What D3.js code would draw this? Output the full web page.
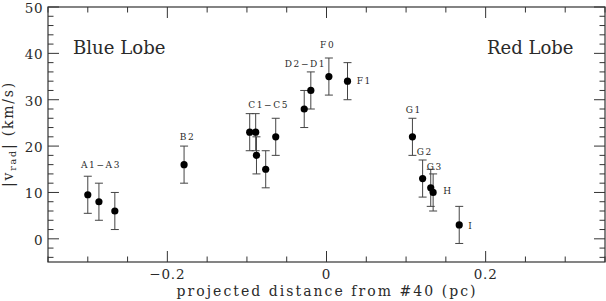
<!DOCTYPE html>
<html><head><meta charset="utf-8">
<script src="https://cdn.jsdelivr.net/npm/d3@7"></script>
<style>body{margin:0;background:#fff}svg{display:block}text{font-family:"DejaVu Serif",serif;fill:#2a2a2a}</style>
</head><body>
<script>
const xs   = [-0.300, -0.286, -0.266, -0.179, -0.0965, -0.089, -0.088, -0.0764, -0.0638, -0.028, -0.0197, 0.003, 0.0264, 0.108, 0.1208, 0.131, 0.134, 0.1668];
const vs   = [9.5, 8, 6, 16, 23, 23, 18, 15, 22, 28, 32, 35, 34, 22, 13, 11, 10, 3];
const errs = [4, 4, 4, 4, 4, 4, 4, 4, 4, 4, 4, 4, 4, 4, 4, 4, 4, 4];
const labelText = ["A1\u2212A3", "B2", "C1\u2212C5", "D2\u2212D1", "F0", "F1", "G1", "G2", "G3", "H", "I"];
const labelX = [-0.2834, -0.1747, -0.0727, -0.0264, 0.0015, 0.038, 0.1097, 0.1134, 0.1259, 0.1468, 0.1782];
const labelY = [15.2, 21.3, 28.15, 37.0, 41.1, 33.5, 27.07, 18.08, 14.85, 9.67, 2.05];
const labelAnchor = ["middle","middle","middle","middle","middle","start","middle","start","start","start","start"];
const xTicks = [-0.2, 0, 0.2];
const yTicks = [0, 10, 20, 30, 40, 50];

const W = 606, H = 301;
const svg = d3.select("body").append("svg").attr("width", W).attr("height", H);
const x = d3.scaleLinear().domain([-0.35, 0.35]).range([48, 605]);
const y = d3.scaleLinear().domain([-5, 50]).range([262, 7]);
const ink = "#333";

// frame
svg.append("rect").attr("x", x(-0.35)).attr("y", y(50)).attr("width", x(0.35) - x(-0.35)).attr("height", y(-5) - y(50))
  .attr("fill", "none").attr("stroke", ink).attr("stroke-width", 1.2);

const minorX = d3.range(-0.35, 0.3501, 0.05).map(v => +v.toFixed(2)).filter(v => !xTicks.some(t => Math.abs(t - v) < 1e-6));
const minorY = d3.range(-4, 50, 2).filter(v => !yTicks.includes(v));

const g = svg.append("g").attr("stroke", ink).attr("stroke-width", 1);
const Y0 = y(-5), Y1 = y(50), X0 = x(-0.35), X1 = x(0.35);
function xt(t, len) {
  g.append("line").attr("x1", x(t)).attr("x2", x(t)).attr("y1", Y0).attr("y2", Y0 - len);
  g.append("line").attr("x1", x(t)).attr("x2", x(t)).attr("y1", Y1).attr("y2", Y1 + len);
}
function yt(t, len) {
  g.append("line").attr("x1", X0).attr("x2", X0 + len).attr("y1", y(t)).attr("y2", y(t));
  g.append("line").attr("x1", X1).attr("x2", X1 - len).attr("y1", y(t)).attr("y2", y(t));
}
xTicks.forEach(t => xt(t, 11)); minorX.forEach(t => xt(t, 5.5));
yTicks.forEach(t => yt(t, 11)); minorY.forEach(t => yt(t, 5.5));

// tick labels
svg.selectAll(".xt").data(xTicks).enter().append("text")
  .attr("x", d => x(d)).attr("y", 279).attr("text-anchor", "middle").attr("font-size", 13.5).attr("letter-spacing", 0.8)
  .text(d => d === 0 ? "0" : (d < 0 ? "\u2212" : "") + Math.abs(d).toFixed(1));
svg.selectAll(".yt").data(yTicks).enter().append("text")
  .attr("x", 43).attr("y", d => y(d) + 5.8).attr("text-anchor", "end").attr("font-size", 13.5).attr("letter-spacing", 0.5)
  .text(d => d);

// axis titles
svg.append("text").attr("x", 326).attr("y", 295.5).attr("text-anchor", "middle").attr("font-size", 14)
  .attr("textLength", 299).attr("lengthAdjust", "spacing").text("projected distance from #40 (pc)");
const yl = svg.append("text").attr("transform", "translate(13,134) rotate(-90)").attr("text-anchor", "middle")
  .attr("font-size", 14).attr("letter-spacing", 1.8);
yl.append("tspan").text("|v");
yl.append("tspan").attr("font-size", 9.5).attr("dy", 3).text("rad");
yl.append("tspan").attr("dy", -3).text("| (km/s)");

// lobe labels
svg.append("text").attr("x", 73).attr("y", 54).attr("font-size", 18).attr("textLength", 92.5).attr("lengthAdjust", "spacingAndGlyphs").text("Blue Lobe");
svg.append("text").attr("x", 487).attr("y", 54).attr("font-size", 18).attr("textLength", 86.5).attr("lengthAdjust", "spacingAndGlyphs").text("Red Lobe");

// error bars
const pts = xs.map((d, i) => ({x: d, v: vs[i], e: errs[i]}));
const eb = svg.append("g").attr("stroke", "#444").attr("stroke-width", 1);
pts.forEach(p => {
  eb.append("line").attr("x1", x(p.x)).attr("x2", x(p.x)).attr("y1", y(p.v - p.e)).attr("y2", y(p.v + p.e));
  [p.v - p.e, p.v + p.e].forEach(t => eb.append("line").attr("x1", x(p.x) - 4).attr("x2", x(p.x) + 4).attr("y1", y(t)).attr("y2", y(t)));
});
svg.selectAll(".pt").data(pts).enter().append("circle")
  .attr("cx", d => x(d.x)).attr("cy", d => y(d.v)).attr("r", 3.6).attr("fill", "#000");

// point labels
svg.selectAll(".lb").data(labelText).enter().append("text")
  .attr("x", (d, i) => x(labelX[i])).attr("y", (d, i) => y(labelY[i]))
  .attr("text-anchor", (d, i) => labelAnchor[i]).attr("font-size", 9).attr("letter-spacing", 1.6).text(d => d);
</script>
</body></html>
